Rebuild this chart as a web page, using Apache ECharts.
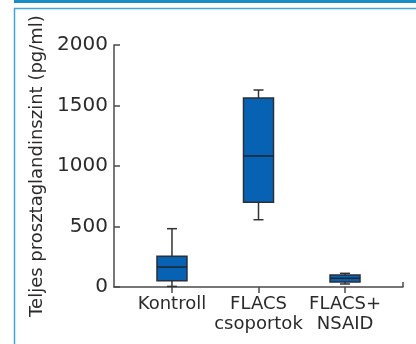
<!DOCTYPE html>
<html>
<head>
<meta charset="utf-8">
<script src="https://cdn.jsdelivr.net/npm/echarts@6/dist/echarts.min.js"></script>
<style>
html,body{margin:0;padding:0;background:#fff;}
#chart{width:416px;height:344px;}
</style>
</head>
<body>
<div id="chart"></div>
<script>
var categories = ['Kontroll', 'FLACS\ncsoportok', 'FLACS+\nNSAID'];
var whiskerLow = [5, 556, 25];
var q1 = [52, 700, 41];
var medians = [165, 1083, 72];
var q3 = [254, 1562, 99];
var whiskerHigh = [482, 1628, 113];
var yTicks = [0, 500, 1000, 1500, 2000];
var yName = 'Teljes prosztaglandinszint (pg/ml)';

var rows = categories.map(function (c, i) {
  return [i, whiskerLow[i], q1[i], medians[i], q3[i], whiskerHigh[i]];
});

var chart = echarts.init(document.getElementById('chart'), null, {renderer: 'canvas'});
var textColor = '#2b2b2b';
var lineColor = '#4a4a4a';
var xMin = -0.67, xMax = 2.67;

function renderItem(params, api) {
  var x = api.value(0);
  var pLow = api.coord([x, api.value(1)]);
  var pQ1 = api.coord([x, api.value(2)]);
  var pMed = api.coord([x, api.value(3)]);
  var pQ3 = api.coord([x, api.value(4)]);
  var pHigh = api.coord([x, api.value(5)]);
  var bw = 30, cw = 10;
  var cx = pMed[0];
  var st = {stroke: '#333333', lineWidth: 1.5};
  return {
    type: 'group',
    children: [
      {type: 'line', shape: {x1: cx, y1: pQ3[1], x2: cx, y2: pHigh[1]}, style: st},
      {type: 'line', shape: {x1: cx - cw / 2, y1: pHigh[1], x2: cx + cw / 2, y2: pHigh[1]}, style: st},
      {type: 'line', shape: {x1: cx, y1: pQ1[1], x2: cx, y2: pLow[1]}, style: st},
      {type: 'line', shape: {x1: cx - cw / 2, y1: pLow[1], x2: cx + cw / 2, y2: pLow[1]}, style: st},
      {type: 'rect', shape: {x: cx - bw / 2, y: pQ3[1], width: bw, height: pQ1[1] - pQ3[1]},
        style: {fill: '#0862b3', stroke: '#2a2f3a', lineWidth: 1.5}},
      {type: 'line', shape: {x1: cx - bw / 2, y1: pMed[1], x2: cx + bw / 2, y2: pMed[1]},
        style: {stroke: '#1f2530', lineWidth: 1.5}}
    ]
  };
}

chart.setOption({
  animation: false,
  backgroundColor: '#ffffff',
  grid: {left: 114, right: 13, top: 45, bottom: 57, containLabel: false},
  xAxis: {
    type: 'value',
    min: xMin,
    max: xMax,
    splitLine: {show: false},
    axisLine: {show: true, onZero: false, lineStyle: {color: lineColor, width: 1.5}},
    axisTick: {show: true, inside: false, length: 6, customValues: [0, 1, 2], lineStyle: {color: lineColor, width: 1.5}},
    axisLabel: {
      customValues: [0, 1, 2],
      formatter: function (v) { return categories[Math.round(v)]; },
      fontFamily: 'DejaVu Sans', fontSize: 18, lineHeight: 20, color: textColor, margin: 7
    }
  },
  yAxis: {
    type: 'value',
    min: 0, max: 2000, interval: 500,
    name: yName,
    nameLocation: 'middle',
    nameGap: 68,
    nameTextStyle: {fontFamily: 'DejaVu Sans', fontSize: 18, color: textColor},
    splitLine: {show: false},
    axisLine: {show: true, onZero: false, lineStyle: {color: lineColor, width: 1.5}},
    axisTick: {show: true, inside: true, length: 6, lineStyle: {color: lineColor, width: 1.5}},
    axisLabel: {fontFamily: 'DejaVu Sans', fontSize: 20, color: textColor, margin: 6,
      formatter: function (v) { return yTicks.indexOf(v) >= 0 ? String(v) : ''; }}
  },
  graphic: [
    {type: 'rect', shape: {x: 14, y: 0, width: 402, height: 3}, style: {fill: '#1a8cc6'}, silent: true},
    {type: 'line', shape: {x1: 14, y1: 8.5, x2: 416, y2: 8.5}, style: {stroke: '#3fa7d9', lineWidth: 1.5}, silent: true},
    {type: 'line', shape: {x1: 14.5, y1: 8, x2: 14.5, y2: 344}, style: {stroke: '#3fa7d9', lineWidth: 1.5}, silent: true}
  ],
  series: [{
    type: 'custom',
    renderItem: renderItem,
    encode: {x: 0, y: [1, 2, 3, 4, 5]},
    data: rows
  }]
});

// small upward end tick at the right end of the x axis
var endPt = chart.convertToPixel({gridIndex: 0}, [xMax, 0]);
chart.setOption({
  graphic: [
    {type: 'rect', shape: {x: 14, y: 0, width: 402, height: 3}, style: {fill: '#1a8cc6'}, silent: true},
    {type: 'line', shape: {x1: 14, y1: 8.5, x2: 416, y2: 8.5}, style: {stroke: '#3fa7d9', lineWidth: 1.5}, silent: true},
    {type: 'line', shape: {x1: 14.5, y1: 8, x2: 14.5, y2: 344}, style: {stroke: '#3fa7d9', lineWidth: 1.5}, silent: true},
    {type: 'line', shape: {x1: endPt[0], y1: endPt[1], x2: endPt[0], y2: endPt[1] - 5}, style: {stroke: lineColor, lineWidth: 1.5}, silent: true}
  ]
});
</script>
</body>
</html>
